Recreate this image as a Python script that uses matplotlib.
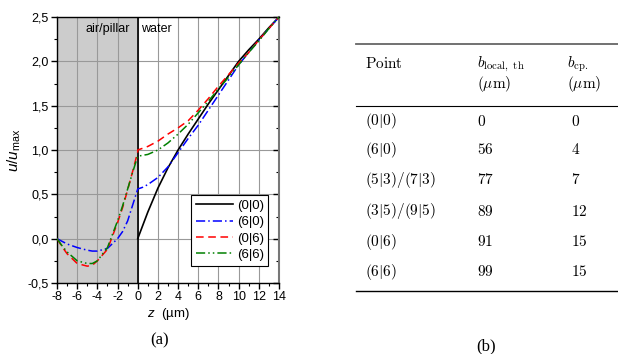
import matplotlib
matplotlib.use("Agg")
import matplotlib.pyplot as plt
from matplotlib.ticker import MultipleLocator, FuncFormatter

plt.rcParams['font.family'] = ['Liberation Sans', 'DejaVu Sans']
plt.rcParams['mathtext.fontset'] = 'cm'
plt.rcParams['mathtext.rm'] = 'Liberation Sans'
plt.rcParams['mathtext.it'] = 'Liberation Sans:italic'
plt.rcParams['axes.unicode_minus'] = False

# ---- data ----
z_water = [0, 0.5, 1, 2, 3, 4, 5, 6, 7, 8, 9, 10, 11, 12, 13, 14]
z_pillar = [-8, -7.5, -7, -6, -5, -4.5, -4, -3, -2, -1.5, -1, -0.5, 0]

y00_water = [0, 0.15, 0.3, 0.57, 0.8, 1.0, 1.18, 1.35, 1.52, 1.68, 1.84, 2.0, 2.13, 2.25, 2.38, 2.5]

y60_pillar = [0, -0.03, -0.06, -0.1, -0.13, -0.14, -0.14, -0.11, 0.0, 0.08, 0.2, 0.38, 0.56]
y60_water = [0.56, 0.58, 0.61, 0.69, 0.81, 0.97, 1.13, 1.28, 1.45, 1.62, 1.79, 1.96, 2.1, 2.24, 2.37, 2.5]

y06_pillar = [0, -0.09, -0.17, -0.28, -0.31, -0.3, -0.25, -0.12, 0.18, 0.35, 0.55, 0.76, 0.98]
y06_water = [1.0, 1.02, 1.04, 1.1, 1.18, 1.25, 1.33, 1.45, 1.58, 1.72, 1.85, 1.98, 2.1, 2.24, 2.37, 2.5]

y66_pillar = [0, -0.08, -0.15, -0.25, -0.28, -0.28, -0.25, -0.1, 0.2, 0.37, 0.56, 0.75, 0.93]
y66_water = [0.93, 0.94, 0.95, 1.0, 1.08, 1.18, 1.29, 1.42, 1.55, 1.69, 1.82, 1.96, 2.1, 2.23, 2.37, 2.5]

labels = ['(0|0)', '(6|0)', '(0|6)', '(6|6)']

table_points = ['(0|0)', '(6|0)', '(5|3)/(7|3)', '(3|5)/(9|5)', '(0|6)', '(6|6)']
table_blocal = ['0', '56', '77', '89', '91', '99']
table_bcp = ['0', '4', '7', '12', '15', '15']

W, H = 618, 354
fig = plt.figure(figsize=(W / 100, H / 100), dpi=100)
ax = fig.add_axes([57 / W, 1 - 283 / H, (279 - 57) / W, (283 - 17) / H])

ax.axvspan(-8, 0, color='#cccccc', zorder=0, lw=0)
ax.grid(True, which='major', color='#999999', lw=0.8, zorder=1)
ax.set_axisbelow(True)
ax.axvline(0, color='black', lw=1.2, zorder=3)

ax.plot(z_water, y00_water, color='black', lw=1.2, ls='-', label=labels[0], zorder=4)
ax.plot(z_pillar + z_water, y60_pillar + y60_water, color='blue', lw=1.1,
        ls=(0, (6, 2, 1, 2)), label=labels[1], zorder=4)
ax.plot(z_pillar + z_water, y06_pillar + y06_water, color='red', lw=1.1,
        ls=(0, (5, 3)), label=labels[2], zorder=4)
ax.plot(z_pillar + z_water, y66_pillar + y66_water, color='green', lw=1.1,
        ls=(0, (6, 2, 1, 2, 1, 2)), label=labels[3], zorder=4)

ax.set_xlim(-8, 14)
ax.set_ylim(-0.5, 2.5)
ax.xaxis.set_major_locator(MultipleLocator(2))
ax.xaxis.set_minor_locator(MultipleLocator(1))
ax.yaxis.set_major_locator(MultipleLocator(0.5))
ax.yaxis.set_minor_locator(MultipleLocator(0.25))
ax.yaxis.set_major_formatter(FuncFormatter(lambda v, p: f"{v:.1f}".replace('.', ',')))
ax.tick_params(axis='both', which='major', direction='out', length=4, width=1,
               labelsize=9, pad=2)
ax.tick_params(axis='both', which='minor', direction='out', length=2, width=0.8)
ax.tick_params(axis='y', which='both', right=True)
for t in ax.yaxis.get_ticklines(minor=False)[1::2] + ax.yaxis.get_ticklines(minor=True)[1::2]:
    t.set_marker(0)  # inward on the right side
ax.spines['right'].set_color('#777777')
ax.spines['right'].set_linewidth(1.5)
for s in ['left', 'bottom', 'top']:
    ax.spines[s].set_linewidth(1.0)

ax.text(-3.0, 2.36, 'air/pillar', ha='center', va='center', fontsize=9)
ax.text(0.35, 2.36, 'water', ha='left', va='center', fontsize=9)

ax.set_ylabel(r'$u/u_{\mathrm{max}}$', fontsize=11, labelpad=3, math_fontfamily='custom')
ax.set_xlabel(r'$z$  (µm)', fontsize=9.5, labelpad=2, math_fontfamily='custom')

leg = ax.legend(loc='lower right', bbox_to_anchor=(0.952, 0.065),
                prop={'size': 9.5},
                frameon=True, fancybox=False, edgecolor='black', framealpha=1,
                handlelength=2.8, handletextpad=0.3, borderpad=0.35,
                labelspacing=0.32, borderaxespad=0)
leg.get_frame().set_linewidth(0.8)

fig.text(160 / W, 1 - 340 / H, '(a)', ha='center', va='center', fontsize=12,
         family='Liberation Serif')
fig.text(486 / W, 1 - 346 / H, '(b)', ha='center', va='center', fontsize=12,
         family='Liberation Serif')

# ---- table ----
def fy(y):
    return 1 - y / H

fig.add_artist(plt.Line2D([356 / W, 1.0], [fy(44), fy(44)], color='#666666', lw=1.3))
fig.add_artist(plt.Line2D([356 / W, 1.0], [fy(106), fy(106)], color='black', lw=0.8))
fig.add_artist(plt.Line2D([356 / W, 1.0], [fy(291), fy(291)], color='black', lw=1.0))

fs = 11
fig.text(365 / W, fy(64), r'$\mathrm{Point}$', ha='left', va='center', fontsize=fs)
fig.text(477 / W, fy(64), r'$b_{\mathrm{local,\ th}}$', ha='left', va='center', fontsize=fs)
fig.text(477 / W, fy(84), r'$(\mu\mathrm{m})$', ha='left', va='center', fontsize=fs)
fig.text(567 / W, fy(64), r'$b_{\mathrm{cp.}}$', ha='left', va='center', fontsize=fs)
fig.text(567 / W, fy(84), r'$(\mu\mathrm{m})$', ha='left', va='center', fontsize=fs)

row_y = [121, 150, 180, 211, 242, 272]
for yy, p, bl, bc in zip(row_y, table_points, table_blocal, table_bcp):
    fig.text(365 / W, fy(yy), '$' + p + '$', ha='left', va='center', fontsize=fs)
    fig.text(477 / W, fy(yy), '$' + bl + '$', ha='left', va='center', fontsize=fs)
    fig.text(571 / W, fy(yy), '$' + bc + '$', ha='left', va='center', fontsize=fs)

fig.savefig('out.png', dpi=100)
